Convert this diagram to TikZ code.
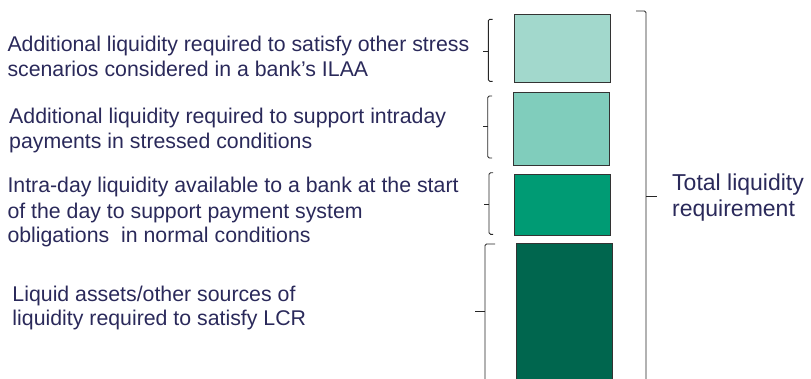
\documentclass[tikz,border=0pt]{standalone}
\usepackage{fontspec}
\setmainfont{Liberation Sans}
\definecolor{txt}{HTML}{2A295A}
\definecolor{cA}{HTML}{A2D8CC}
\definecolor{cB}{HTML}{80CDBC}
\definecolor{cC}{HTML}{009B74}
\definecolor{cD}{HTML}{00664E}
\definecolor{edge}{HTML}{333333}
\tikzset{
  bar/.style={draw=edge, line width=1pt, inner sep=0pt},
  bracket/.style={draw=black!85, line width=0.9pt, rounded corners=1.5pt},
  lbl/.style={anchor=base west, inner sep=0pt, text=txt, font=\fontsize{21.3}{24}\selectfont},
  big/.style={anchor=base west, inner sep=0pt, text=txt, font=\fontsize{23}{27}\selectfont}
}
\begin{document}
\begin{tikzpicture}[x=1pt,y=-1pt]
\useasboundingbox (0,0) rectangle (811,378);
\clip (0,0) rectangle (811,378);
% bars
\node[bar, fill=cA, minimum width=96pt, minimum height=68.7pt] (b1) at (562.3,48.35) {};
\node[bar, fill=cB, minimum width=96pt, minimum height=73pt] (b2) at (561.7,129.2) {};
\node[bar, fill=cC, minimum width=96pt, minimum height=61pt] (b3) at (562.7,204.5) {};
\node[bar, fill=cD, minimum width=96.4pt, minimum height=156.7pt] (b4) at (564.5,321.65) {};
% small brackets
\draw[bracket] (492.5,19.3) -- (488.3,19.3) -- (488.3,81.3) -- (492.5,81.3);
\draw[bracket] (488.3,51.7) -- (483.3,51.7);
\draw[bracket] (492,96) -- (487.7,96) -- (487.7,158) -- (492,158);
\draw[bracket] (487.7,126.7) -- (483,126.7);
\draw[bracket] (493,172.7) -- (489,172.7) -- (489,234.3) -- (493,234.3);
\draw[bracket] (489,204) -- (484,204);
\draw[bracket] (495,244) -- (485,244) -- (485,400);
\draw[bracket] (485,311.7) -- (475,311.7);
% big bracket
\draw[bracket] (636,11) -- (646,11) -- (646,400);
\draw[bracket] (646,196) -- (656.7,196);
% labels
\node[lbl] (t1a) at (7.3,51.7) {Additional liquidity required to satisfy other stress};
\node[lbl] (t1b) at (7.3,76) {scenarios considered in a bank’s ILAA};
\node[lbl] (t2a) at (9,123.3) {Additional liquidity required to support intraday};
\node[lbl] (t2b) at (9,148) {payments in stressed conditions};
\node[lbl] (t3a) at (7.3,192.7) {Intra-day liquidity available to a bank at the start};
\node[lbl] (t3b) at (7.3,218.3) {of the day to support payment system};
\node[lbl] (t3c) at (7.3,242.7) {obligations\ \ in normal conditions};
\node[lbl] (t4a) at (12.3,301) {Liquid assets/other sources of};
\node[lbl] (t4b) at (12.3,325.7) {liquidity required to satisfy LCR};
\node[big] (tot1) at (672,190.5) {Total liquidity};
\node[big] (tot2) at (672,216) {requirement};
\end{tikzpicture}
\end{document}
